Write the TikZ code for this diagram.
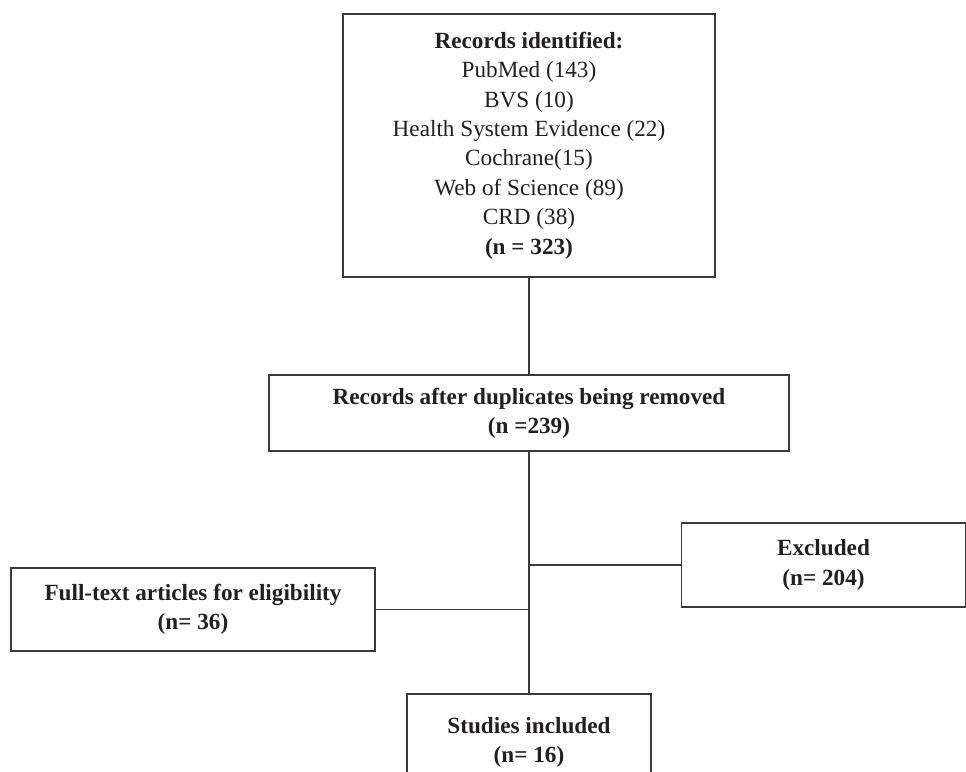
\documentclass[tikz,border=0pt]{standalone}
\usepackage{fontspec}
\setmainfont{Liberation Serif}
\definecolor{ink}{HTML}{231F20}
\definecolor{edge}{HTML}{3A3A3A}
\begin{document}
\begin{tikzpicture}[x=1pt,y=-1pt,
  box/.style={draw=edge, line width=1.2pt, text=ink, align=center, inner sep=0pt,
    font=\fontsize{23.2}{29.4}\selectfont},
  link/.style={draw=edge, line width=1.2pt}]
\useasboundingbox (0,0) rectangle (966,771);
\clip (0,0) rectangle (966,771);
\node[box, minimum width=372pt, minimum height=263pt] (top) at (529,145.5)
  {\textbf{Records identified:}\\PubMed (143)\\BVS (10)\\Health System Evidence (22)\\Cochrane(15)\\Web of Science (89)\\CRD (38)\\\textbf{(n = 323)}};
\node[box, minimum width=520pt, minimum height=76pt] (mid) at (529,413)
  {\textbf{Records after duplicates being removed}\\\textbf{(n =239)}};
\node[box, minimum width=284pt, minimum height=84pt] (excl) at (823.5,565)
  {\textbf{Excluded}\\\textbf{(n= 204)}};
\node[box, minimum width=364pt, minimum height=83pt] (full) at (193,609.5)
  {\textbf{Full-text articles for eligibility}\\\textbf{(n= 36)}};
\node[box, minimum width=244pt, minimum height=92pt, text depth=0pt] (stud) at (529,740)
  {\textbf{Studies included}\\\textbf{(n= 16)}};
\coordinate (j1) at (mid.south |- excl.west);
\coordinate (j2) at (mid.south |- full.east);
\draw[link] (top.south) -- (mid.north);
\draw[link] (mid.south) -- (stud.north);
\draw[link] (j1) -- (excl.west);
\draw[link] (full.east) -- (j2);
\end{tikzpicture}
\end{document}
